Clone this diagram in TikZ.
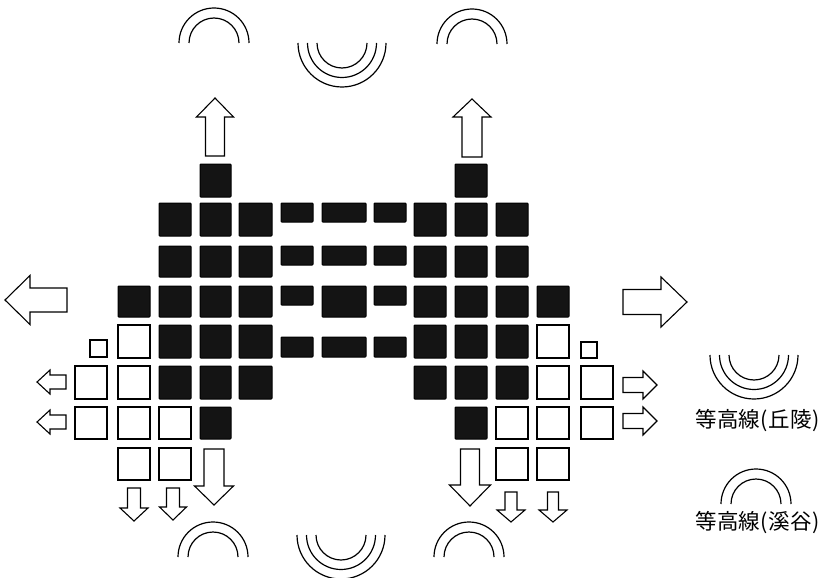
\documentclass[tikz,border=0pt]{standalone}
\usepackage{fontspec}
\newfontfamily\cjk{Noto Sans CJK JP}
\begin{document}
\begin{tikzpicture}[x=1pt,y=-1pt,
  bbox/.style={draw=black,fill=black!92,line width=1pt,rounded corners=0.8pt},
  wbox/.style={draw=black,fill=white,line width=1.2pt},
  arrline/.style={draw=black,fill=white,line width=1.1pt,line join=miter},
  contour/.style={draw=black,line width=1.2pt},
  legendtext/.style={font=\cjk\fontsize{21.5}{26}\selectfont,inner sep=0pt},
  pics/barrow/.style n args={4}{code={
    \draw[arrline] (0,-#2) -- ({#1-#4},-#2) -- ({#1-#4},-#3) -- (#1,0)
      -- ({#1-#4},#3) -- ({#1-#4},#2) -- (0,#2) -- cycle;}}]
\useasboundingbox (0,0) rectangle (830,578);
% black squares
\foreach \xa/\xb/\ya/\yb in {
  200/231/164/197, 455/487/164/197,
  159/191/203/236, 200/231/203/236, 239/272/203/236, 414/446/203/236, 455/487/203/236, 496/528/203/236,
  159/191/246/277, 200/231/246/277, 239/272/246/277, 414/446/246/277, 455/487/246/277, 496/528/246/277,
  118/150/286/317, 159/191/286/317, 200/231/286/317, 239/272/286/317, 414/446/286/317, 455/487/286/317, 496/528/286/317, 537/569/286/317,
  159/191/325/358, 200/231/325/358, 239/272/325/358, 414/446/325/358, 455/487/325/358, 496/528/325/358,
  159/191/366/399, 200/231/366/399, 239/272/366/399, 414/446/366/399, 455/487/366/399, 496/528/366/399,
  200/231/407/439, 455/487/407/439,
  % bars
  281/313/203/222, 322/366/203/222, 374/406/203/222,
  281/313/246/265, 322/366/246/265, 374/406/246/265,
  281/313/286/305, 322/366/286/317, 374/406/286/305,
  281/313/337/357, 322/366/337/357, 374/406/337/357}
  \draw[bbox] (\xa,\ya) rectangle (\xb,\yb);
% white squares
\foreach \xa/\xb/\ya/\yb in {
  90/107/340/357, 118/150/325/358, 537/569/325/358, 581/597/342/358,
  75/107/366/399, 118/150/366/399, 537/569/366/399, 581/613/366/399,
  75/107/407/439, 118/150/407/439, 159/191/407/439, 496/528/407/439, 537/569/407/439, 581/613/407/439,
  118/150/448/480, 159/191/448/480, 496/528/448/480, 537/569/448/480}
  \draw[wbox] (\xa,\ya) rectangle (\xb,\yb);
% arrows
\pic[rotate=90] at (215,156) {barrow={58}{9.5}{18.5}{19}};
\pic[rotate=90] at (472,157) {barrow={58}{10}{19}{18}};
\pic[rotate=180] at (67,300) {barrow={62}{12}{24.5}{25}};
\pic at (623,302) {barrow={64}{12.5}{25}{26}};
\pic[rotate=180] at (66,382) {barrow={29}{7}{12}{13}};
\pic[rotate=180] at (66,422) {barrow={29}{7}{12}{13}};
\pic at (623,385) {barrow={34}{7.5}{14}{14}};
\pic at (623,421) {barrow={34}{7.5}{14}{14}};
\pic[rotate=-90] at (214,449) {barrow={56}{10}{19.5}{19}};
\pic[rotate=-90] at (470,449) {barrow={57}{9.5}{20.5}{21}};
\pic[rotate=-90] at (134,488) {barrow={33}{6.5}{14}{13}};
\pic[rotate=-90] at (173,488) {barrow={32}{6.5}{13.5}{13}};
\pic[rotate=-90] at (511,492) {barrow={30}{6}{14}{12}};
\pic[rotate=-90] at (553,492) {barrow={30}{5.5}{14}{12}};
% contour arcs: valley (cap) shape
\foreach \cx/\cy in {214/43, 472/44, 213/557, 469/557, 756/504}{
  \draw[contour] ({\cx-35},\cy) arc[start angle=180,end angle=0,radius=35pt];
  \draw[contour] ({\cx-25},\cy) arc[start angle=180,end angle=0,radius=25pt];
}
% hill (cup) shape
\foreach \cx/\cy in {342/43, 341/535, 754/355}{
  \draw[contour] ({\cx-44},\cy) arc[start angle=180,end angle=360,radius=44pt];
  \draw[contour] ({\cx-34.5},\cy) arc[start angle=180,end angle=360,radius=34.5pt];
  \draw[contour] ({\cx-25},\cy) arc[start angle=180,end angle=360,radius=25pt];
}
\node[legendtext] (hill) at (758,421) {等高線(\kern1pt 丘陵\kern1pt)};
\node[legendtext] (valley) at (758,523) {等高線(\kern1pt 溪谷\kern1pt)};
\end{tikzpicture}
\end{document}
